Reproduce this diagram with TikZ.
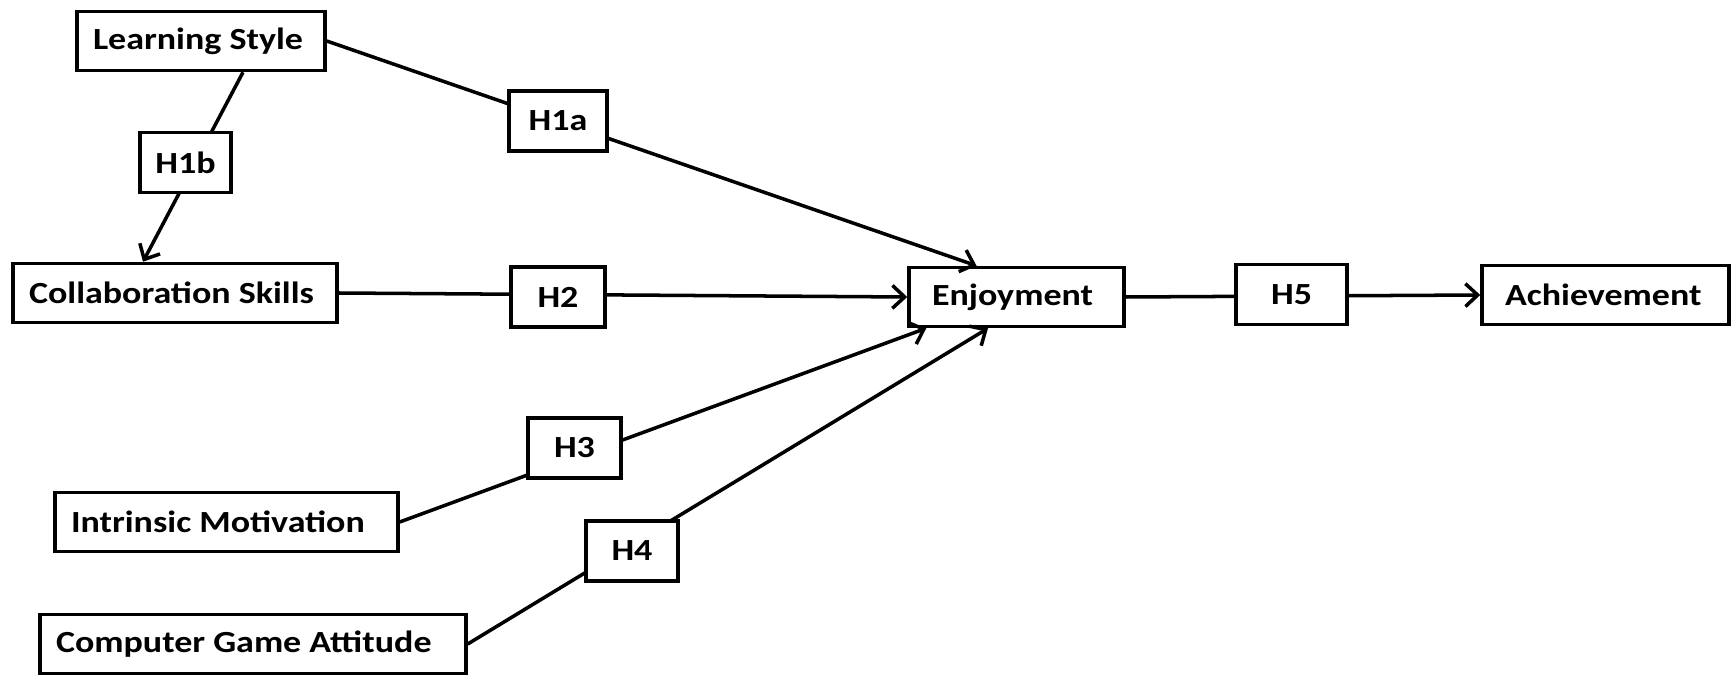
\documentclass[tikz,border=0pt]{standalone}
\usepackage{fontspec}
\setmainfont{Carlito}
\newfontfamily\boxfont{Carlito}[FakeStretch=1.17]
\usetikzlibrary{arrows.meta}

\tikzset{
  var/.style={draw, line width=2pt, fill=white, inner xsep=0.32cm, inner ysep=0pt,
    minimum height=1.18cm, text width=#1, align=flush left,
    font=\boxfont\fontsize{17.5}{20}\selectfont\bfseries},
  wide/.style={inner xsep=0.46cm},
  hyp/.style={draw, line width=2pt, fill=white, inner sep=0pt,
    minimum height=1.2cm, minimum width=#1,
    font=\boxfont\fontsize{17.5}{20}\selectfont\bfseries},
  link/.style={line width=2pt, -{Straight Barb[length=7pt,width=13pt]}},
}

\begin{document}
\begin{tikzpicture}[x=0.02cm, y=-0.02cm]
    \useasboundingbox (0,0) rectangle (1731,675);
    % Draw the constructs
    \node[var=4.32cm] (LS) at (201,41) {Learning Style};
    \node[var=5.84cm] (CS) at (175,293) {Collaboration Skills};
    \node[var=6.22cm] (IM) at (226.5,522) {Intrinsic Motivation};
    \node[var=7.88cm] (CGA) at (253,644) {Computer Game Attitude};
    \node[var=3.38cm, wide] (Enj) at (1016.5,297) {Enjoyment};
    \node[var=4.02cm, wide] (Ach) at (1605.5,295) {Achievement};
    % Draw the paths
    \draw[link] (LS.east) -- ([xshift=-0.8cm]Enj.north);
    \draw[link] ([xshift=0.84cm]LS.south) -- ([xshift=-0.64cm]CS.north);
    \draw[link] (CS.east) -- (Enj.west);
    \draw[link] (IM.east) -- ([xshift=0.38cm]Enj.south west);
    \draw[link] (CGA.east) -- ([xshift=-0.57cm]Enj.south);
    \draw[link] (Enj.east) -- (Ach.west);
    % Draw the hypotheses
    \node[hyp=1.96cm] (H1a) at (558,121) {H1a};
    \node[hyp=1.82cm] (H1b) at (185.5,162.5) {H1b};
    \node[hyp=1.88cm] (H2) at (558,297) {H2};
    \node[hyp=1.86cm] (H3) at (574.5,448) {H3};
    \node[hyp=1.84cm] (H4) at (632,551) {H4};
    \node[hyp=2.22cm] (H5) at (1291.5,294.5) {H5};
\end{tikzpicture}
\end{document}
